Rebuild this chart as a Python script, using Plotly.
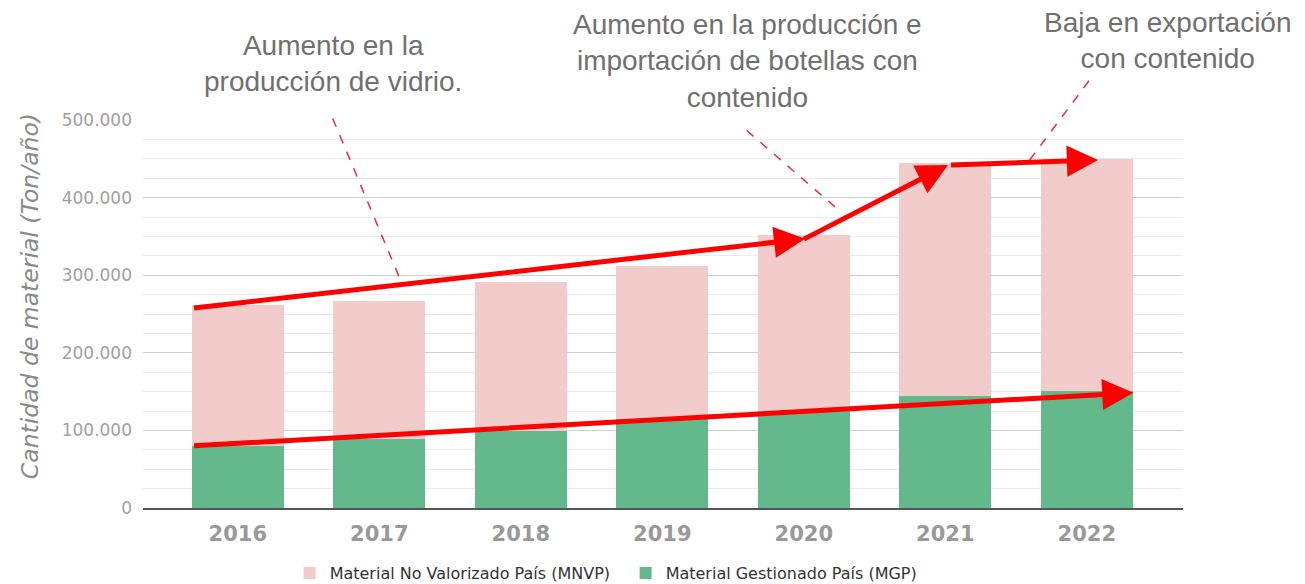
import plotly.graph_objects as go

years = ["2016", "2017", "2018", "2019", "2020", "2021", "2022"]
mgp = [80000, 88500, 99500, 115000, 125000, 144000, 150500]
totals = [261500, 267000, 291500, 312500, 352000, 444500, 450000]
mnvp = [t - g for t, g in zip(totals, mgp)]

name_mnvp = "Material No Valorizado País (MNVP)"
name_mgp = "Material Gestionado País (MGP)"
color_mnvp = "#F2CBCB"
color_mgp = "#63B98B"

y_tickvals = [0, 100000, 200000, 300000, 400000, 500000]

# trend arrows (tail x, tail y, head x, head y) in data coordinates
arrows = [
    (-0.32, 257500, 4.01, 347000),
    (3.99, 345500, 5.02, 442000),
    (5.03, 442000, 6.08, 448500),
    (-0.32, 80000, 6.33, 148500),
]

notes = [
    ("Aumento en la<br>producción de vidrio.", 0.183, 1.146),
    ("Aumento en la producción e<br>importación de botellas con<br>contenido", 0.581, 1.153),
    ("Baja en exportación<br>con contenido", 0.986, 1.205),
]
# dashed leader lines in paper coordinates
leaders = [
    (0.1824, 1.004, 0.2500, 0.572),
    (0.5805, 0.973, 0.6654, 0.776),
    (0.9096, 1.101, 0.8481, 0.881),
]

fig = go.Figure()
fig.add_trace(go.Bar(x=years, y=mgp, name=name_mgp, marker=dict(color=color_mgp, line=dict(width=0)),
                     width=0.65))
fig.add_trace(go.Bar(x=years, y=mnvp, name=name_mnvp, marker=dict(color=color_mnvp, line=dict(width=0)),
                     width=0.65))

for tx, ty, hx, hy in arrows:
    fig.add_annotation(x=hx, y=hy, ax=tx, ay=ty, xref="x", yref="y", axref="x", ayref="y",
                       text="", showarrow=True, arrowhead=2, arrowsize=1.25, arrowwidth=5,
                       arrowcolor="#FF0000", standoff=0, startstandoff=0)

for txt, px, py in notes:
    fig.add_annotation(x=px, y=py, xref="paper", yref="paper", text=txt, showarrow=False,
                       xanchor="center", yanchor="middle", align="center", borderpad=0,
                       font=dict(family="Liberation Sans, Arial, sans-serif", size=28, color="#707070"))

for x0, y0, x1, y1 in leaders:
    fig.add_shape(type="line", xref="paper", yref="paper", x0=x0, y0=y0, x1=x1, y1=y1,
                  line=dict(color="#E8303A", width=1.5, dash="dash"))

fig.add_annotation(x=-0.109, y=0.545, xref="paper", yref="paper", text="<i>Cantidad de material (Ton/año)</i>",
                   showarrow=False, textangle=-90, xanchor="center", yanchor="middle",
                   font=dict(family="DejaVu Sans, Verdana, sans-serif", size=23.5, color="#8a8a8a"))

fig.update_layout(
    barmode="stack",
    width=1305, height=584,
    margin=dict(l=135, r=130, t=112, b=84, autoexpand=False),
    plot_bgcolor="white", paper_bgcolor="white",
    separators=",.",
    bargap=0.35,
    showlegend=True,
    legend=dict(orientation="h", x=0.141, y=-0.1675, xanchor="left", yanchor="middle",
                traceorder="reversed", entrywidth=291, entrywidthmode="pixels",
                font=dict(family="DejaVu Sans, Verdana, sans-serif", size=16, color="#333333"),
                itemsizing="constant"),
    xaxis=dict(type="category", range=[-0.67, 6.68], showgrid=False, showline=True,
               linecolor="#555555", linewidth=2, ticks="", ticklabelstandoff=6,
               tickfont=dict(family="DejaVu Sans, Verdana, sans-serif", size=21, color="#999999",
                             weight="bold")),
    yaxis=dict(range=[0, 500000], tickvals=y_tickvals, tickformat=",d", showgrid=True,
               gridcolor="#cfcfcf", gridwidth=1, zeroline=False, showline=False, ticks="",
               ticklabelstandoff=10,
               tickfont=dict(family="DejaVu Sans, Verdana, sans-serif", size=17, color="#a0a0a0"),
               minor=dict(dtick=25000, showgrid=True, gridcolor="#ebebeb", gridwidth=1)),
)

fig.write_html("out.html")
